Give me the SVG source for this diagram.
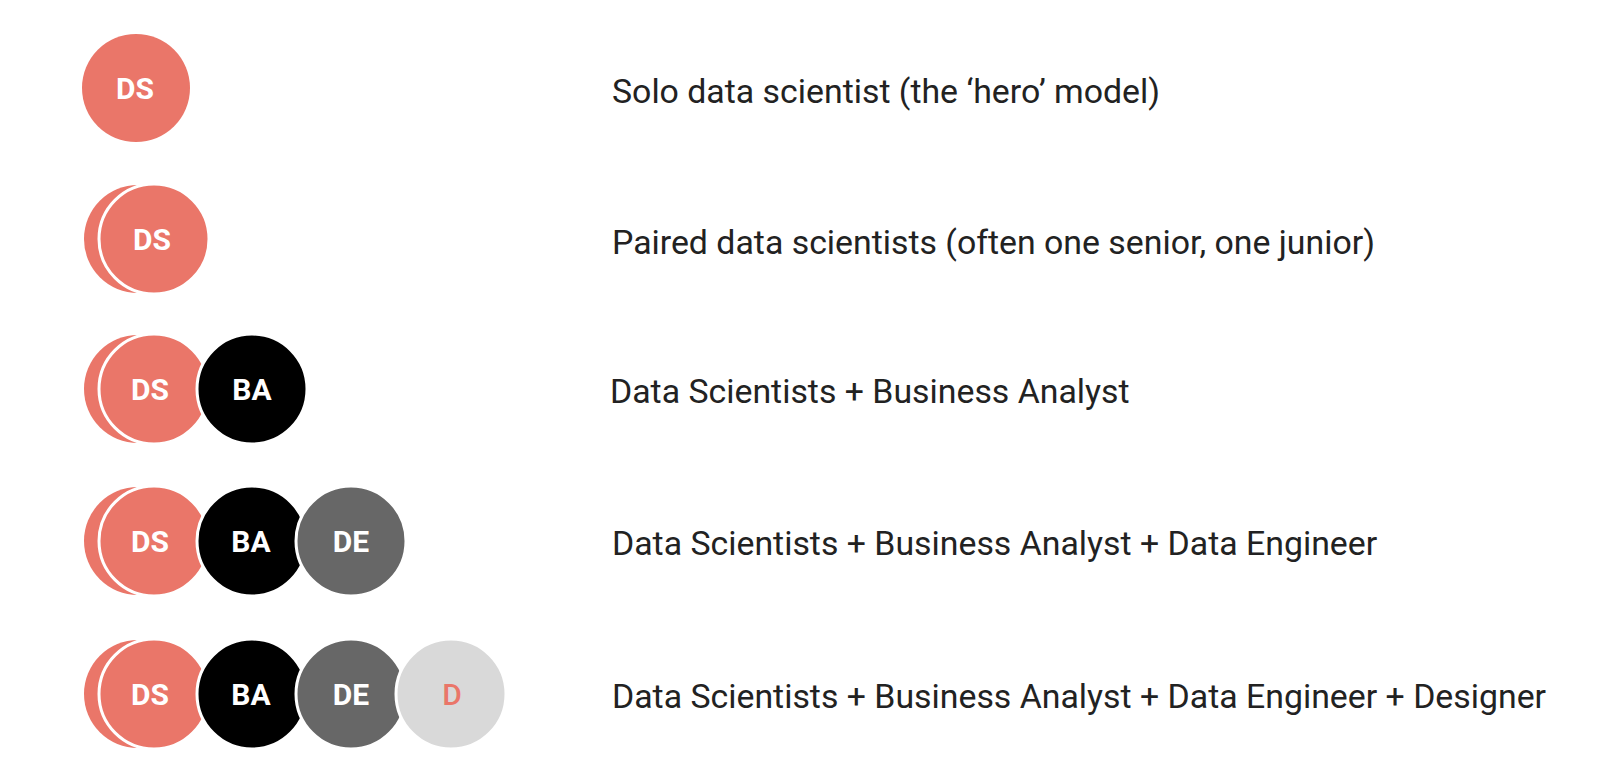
<svg xmlns="http://www.w3.org/2000/svg" width="1600" height="781" viewBox="0 0 1600 781">
<style>
.ds{fill:#EA7669}
.ring{stroke:#fff;stroke-width:3}
.ba{fill:#000}
.de{fill:#676767}
.dz{fill:#D9D9D9}
.lbl{font-family:Roboto,"Liberation Sans",sans-serif;font-weight:700;font-size:30px;fill:#fff;text-anchor:middle}
.lblD{font-family:Roboto,"Liberation Sans",sans-serif;font-weight:500;font-size:30px;fill:#EA7669;text-anchor:middle}
.txt{font-family:Roboto,"Liberation Sans",sans-serif;font-size:33.85px;fill:#222}
</style>
<rect width="1600" height="781" fill="#fff"/>
<g id="row1">
<circle class="ds" cx="136" cy="88" r="54"/>
<text class="lbl" x="135" y="99">DS</text>
<text class="txt" x="612" y="103">Solo data scientist (the ‘hero’ model)</text>
</g>
<g id="row2">
<circle class="ds" cx="138" cy="239" r="54"/>
<circle class="ds ring" cx="154" cy="239" r="55"/>
<text class="lbl" x="152" y="250">DS</text>
<text class="txt" x="612" y="254">Paired data scientists (often one senior, one junior)</text>
</g>
<g id="row3">
<circle class="ds" cx="138" cy="389" r="54"/>
<circle class="ds ring" cx="154" cy="389" r="55"/>
<text class="lbl" x="150" y="400">DS</text>
<circle class="ba ring" cx="252" cy="389" r="55"/>
<text class="lbl" x="252" y="400">BA</text>
<text class="txt" x="610" y="403">Data Scientists + Business Analyst</text>
</g>
<g id="row4">
<circle class="ds" cx="138" cy="541" r="54"/>
<circle class="ds ring" cx="154" cy="541" r="55"/>
<text class="lbl" x="150" y="552">DS</text>
<circle class="ba ring" cx="252" cy="541" r="55"/>
<text class="lbl" x="251" y="552">BA</text>
<circle class="de ring" cx="351" cy="541" r="55"/>
<text class="lbl" x="351" y="552">DE</text>
<text class="txt" x="612" y="555">Data Scientists + Business Analyst + Data Engineer</text>
</g>
<g id="row5">
<circle class="ds" cx="138" cy="694" r="54"/>
<circle class="ds ring" cx="154" cy="694" r="55"/>
<text class="lbl" x="150" y="705">DS</text>
<circle class="ba ring" cx="252" cy="694" r="55"/>
<text class="lbl" x="251" y="705">BA</text>
<circle class="de ring" cx="351" cy="694" r="55"/>
<text class="lbl" x="351" y="705">DE</text>
<circle class="dz ring" cx="451" cy="694" r="55"/>
<text class="lblD" x="452" y="705">D</text>
<text class="txt" x="612" y="708">Data Scientists + Business Analyst + Data Engineer + Designer</text>
</g>
</svg>
